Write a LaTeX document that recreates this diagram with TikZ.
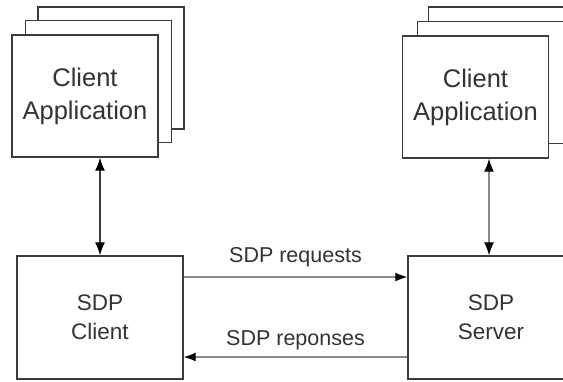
\documentclass[tikz,border=0pt]{standalone}
\usepackage{fontspec}
\setmainfont{Liberation Sans}
\usetikzlibrary{arrows.meta,calc}
\definecolor{boxline}{HTML}{3C3C3C}
\definecolor{txt}{HTML}{333333}
\definecolor{arrline}{HTML}{8A8A8A}
\begin{document}
\begin{tikzpicture}[x=1pt,y=-1pt,
  appbox/.style={draw=boxline, line width=1.4pt, fill=white, minimum width=146pt, minimum height=122pt, inner sep=0pt},
  sdpbox/.style={draw=boxline, line width=1.4pt, fill=white, minimum width=166pt, minimum height=123pt, inner sep=0pt, text=txt, align=center, font=\fontsize{22.5}{29}\selectfont},
  apptext/.style={text=txt, align=center, font=\fontsize{25.5}{33}\selectfont},
  vlink/.style={line width=1.2pt, {Latex[length=13pt,width=10pt,color=black]}-{Latex[length=13pt,width=10pt,color=black]}},
  hlink/.style={line width=1.3pt, draw=arrline, -{Latex[length=12pt,width=9pt,color=black]}},
  lbl/.style={text=txt, font=\fontsize{21.5}{24}\selectfont}]
\useasboundingbox (0,0) rectangle (563,381);
% left client application stack
\node[appbox] (capp1b) at (111,68) {};
\node[appbox] (capp1m) at (98.5,81.5) {};
\node[appbox, apptext] (capp1) at (85,96) {Client\\Application};
% right client application stack
\node[appbox] (capp2b) at (501.5,68) {};
\node[appbox] (capp2m) at (490.5,82.5) {};
\node[appbox, apptext] (capp2) at (475.5,97) {Client\\Application};
% SDP boxes
\node[sdpbox] (cl) at (100,317.5) {SDP\\Client};
\node[sdpbox] (sv) at (491,317.5) {SDP\\Server};
% vertical links
\draw[vlink, draw=boxline] (cl.north |- capp1.south) -- (cl.north);
\draw[vlink, draw=arrline] ([xshift=-2pt]sv.north |- capp2.south) -- ([xshift=-2pt]sv.north);
% horizontal links
\draw[hlink] ([yshift=40.5pt]cl.east) -- node[lbl, midway, yshift=20pt] {SDP requests} ([yshift=40.5pt]sv.west);
\draw[hlink] ([yshift=-39.5pt]sv.west) -- node[lbl, midway, yshift=17pt] {SDP reponses} ([yshift=-39.5pt]cl.east);
\end{tikzpicture}
\end{document}
